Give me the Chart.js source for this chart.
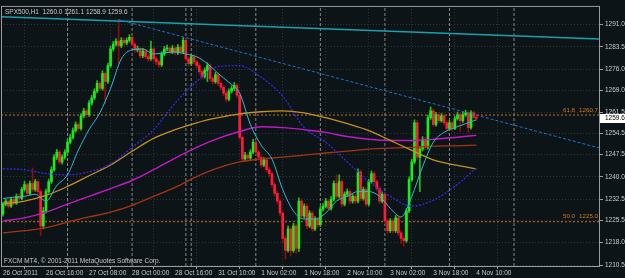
<!DOCTYPE html>
<html>
<head>
<meta charset="utf-8">
<script src="https://cdn.jsdelivr.net/npm/chart.js@4.4.0/dist/chart.umd.min.js"></script>
<style>
  html, body { margin: 0; padding: 0; background: #0c1417; }
  canvas { display: block; }
</style>
</head>
<body>
<canvas id="chart" width="625" height="278"></canvas>
<script>
// SPX500 H1 bars, index 0 = 26 Oct 2011 00:00 (open of first bar below)
const firstOpen = 1227.6;
const closes = [
  1230.9,1231.9,1230.2,1232.5,1231.2,1233.5,1232.8,1235.8,1237.4,1234.5,
  1237.8,1235.8,1238.4,1235.1,1223.6,1228.6,1235.1,1238.4,1242.4,1246.6,
  1248.3,1245.0,1246.6,1248.3,1251.6,1253.2,1255.5,1257.5,1256.2,1260.4,
  1262.1,1260.8,1264.7,1266.4,1268.7,1271.3,1269.6,1274.6,1271.9,1277.2,
  1282.8,1284.4,1285.4,1283.8,1285.7,1284.8,1285.7,1286.7,1284.4,1282.5,
  1282.8,1280.5,1282.1,1280.2,1279.5,1282.8,1279.5,1278.5,1277.5,1281.1,
  1282.8,1283.1,1281.8,1283.1,1281.5,1283.4,1281.8,1285.7,1279.5,1277.9,
  1280.2,1278.5,1277.2,1275.2,1273.6,1275.6,1277.2,1272.9,1271.9,1274.2,
  1271.3,1270.0,1268.0,1266.0,1268.7,1269.6,1270.6,1267.3,1253.2,1246.0,
  1247.3,1246.3,1248.3,1251.6,1248.3,1246.6,1244.0,1245.7,1242.4,1241.1,
  1237.4,1234.5,1231.9,1227.9,1219.4,1215.4,1222.6,1215.4,1223.6,1216.1,
  1231.9,1226.9,1230.2,1223.6,1227.9,1222.6,1225.9,1224.0,1229.2,1230.2,
  1231.9,1229.5,1232.5,1237.8,1233.5,1238.4,1230.9,1234.2,1235.1,1231.9,
  1233.5,1231.9,1241.7,1232.8,1235.8,1230.9,1238.4,1241.1,1238.4,1236.1,
  1231.9,1234.2,1225.3,1222.0,1225.3,1222.0,1226.3,1221.3,1219.4,1218.7,
  1228.6,1239.1,1245.0,1258.1,1246.6,1249.3,1252.6,1249.9,1259.8,1262.1,
  1257.5,1260.8,1258.8,1260.4,1258.1,1256.2,1258.1,1256.2,1259.5,1260.8,
  1258.8,1260.8,1261.4,1256.5,1261.4,1260.0,1259.6
];
const highs = [
  1231.6,1232.6,1232.4,1233.2,1233.0,1234.3,1234.4,1236.5,1238.5,1237.9,
  1238.6,1243.0,1239.2,1239.0,1235.8,1229.8,1235.9,1239.3,1243.4,1247.5,
  1249.2,1248.9,1247.4,1249.1,1252.5,1254.2,1256.4,1258.4,1258.2,1261.2,
  1263.0,1262.8,1265.5,1267.3,1269.5,1272.2,1272.0,1275.5,1275.2,1278.1,
  1283.7,1285.3,1286.3,1292.6,1286.6,1286.4,1286.5,1287.6,1287.3,1285.0,
  1283.8,1283.3,1283.0,1282.7,1281.0,1285.4,1283.3,1280.1,1279.1,1281.9,
  1283.7,1284.1,1283.7,1284.0,1283.6,1284.3,1284.0,1286.6,1286.2,1280.2,
  1281.0,1280.8,1279.1,1277.8,1275.9,1276.5,1278.2,1277.8,1273.6,1275.0,
  1274.8,1271.9,1270.6,1268.6,1269.5,1270.5,1271.6,1271.2,1268.0,1253.8,
  1248.2,1247.9,1249.1,1252.6,1252.1,1249.0,1247.2,1246.5,1246.2,1243.2,
  1241.8,1238.1,1235.2,1232.6,1228.6,1220.1,1223.6,1223.3,1224.5,1224.2,
  1233.0,1232.6,1231.0,1231.0,1228.7,1228.5,1226.7,1226.5,1230.1,1231.1,
  1232.8,1232.5,1233.4,1238.7,1240.7,1240.7,1239.0,1235.0,1236.0,1235.7,
  1234.3,1234.1,1242.7,1242.3,1236.6,1236.4,1239.2,1242.0,1241.8,1239.0,
  1236.8,1235.0,1234.9,1226.0,1226.1,1226.0,1227.1,1226.9,1222.0,1220.3,
  1229.4,1240.0,1245.9,1259.1,1258.9,1250.2,1253.5,1253.3,1260.7,1263.4,
  1262.8,1261.6,1261.4,1261.2,1261.0,1258.7,1258.9,1258.6,1260.3,1261.7,
  1261.5,1261.6,1262.3,1262.0,1262.2,1262.0,1261.1
];
const lows = [
  1226.9,1230.3,1229.5,1229.8,1230.6,1230.8,1232.1,1232.3,1235.2,1233.9,
  1234.0,1235.1,1235.2,1234.4,1220.4,1222.6,1227.9,1234.5,1237.8,1241.8,
  1245.8,1244.2,1244.3,1245.9,1247.7,1251.0,1252.6,1254.9,1255.0,1255.6,
  1259.8,1259.9,1260.2,1264.0,1265.8,1268.1,1268.9,1269.0,1264.7,1271.3,
  1276.6,1282.1,1283.8,1277.9,1283.2,1284.1,1284.2,1285.1,1283.8,1281.7,
  1281.8,1279.7,1279.9,1279.4,1278.6,1279.0,1278.7,1277.5,1276.6,1276.9,
  1280.5,1282.1,1281.0,1281.2,1280.8,1280.9,1281.0,1281.2,1278.8,1277.0,
  1277.3,1277.7,1276.3,1274.4,1272.7,1273.0,1271.9,1272.1,1271.0,1271.3,
  1270.5,1269.1,1267.2,1265.1,1265.4,1268.0,1268.9,1266.5,1252.4,1245.2,
  1245.5,1245.6,1245.8,1247.8,1247.6,1245.8,1243.2,1243.4,1241.6,1240.2,
  1236.6,1233.6,1231.0,1227.0,1218.0,1212.5,1214.8,1213.5,1214.8,1214.4,
  1215.0,1226.0,1226.2,1222.7,1223.0,1221.6,1222.0,1223.2,1223.4,1228.5,
  1229.6,1228.7,1228.9,1231.9,1232.7,1232.9,1230.0,1230.3,1233.5,1231.0,
  1231.2,1231.1,1231.3,1232.0,1232.2,1230.1,1230.3,1237.8,1237.6,1235.3,
  1231.0,1231.3,1224.4,1221.1,1221.4,1221.2,1221.4,1220.4,1217.7,1216.8,
  1218.1,1228.0,1238.5,1244.4,1245.6,1235.1,1248.7,1249.1,1249.3,1259.2,
  1256.8,1257.0,1258.1,1258.3,1257.4,1255.5,1255.7,1255.4,1255.8,1259.0,
  1255.2,1258.2,1260.2,1254.9,1256.0,1259.4,1258.9
];

// time axis
const xTickIdx = [0, 16, 32, 48, 64, 80, 96, 112, 128, 144, 160, 176];
const xTickLabels = ['26 Oct 2011', '26 Oct 16:00', '27 Oct 08:00', '28 Oct 00:00', '28 Oct 16:00',
  '31 Oct 10:00', '1 Nov 02:00', '1 Nov 18:00', '2 Nov 10:00', '3 Nov 02:00', '3 Nov 18:00', '4 Nov 10:00'];
const daySeparators = [24, 48, 68, 70, 94, 118, 142, 166, 190];

// price axis
const yTicks = [1291.0, 1283.5, 1276.0, 1269.0, 1261.5, 1254.5, 1247.5, 1240.0, 1232.5, 1225.5, 1218.0, 1210.5];

// moving averages
const fastMaIdx = [0,4,8,12,16,20,24,28,32,36,40,44,48,52,56,60,64,68,72,76,80,84,88,
  92,96,100,104,108,112,116,120,124,128,132,136,140,144,148,152,156,160,164,168,172,176];
const fastMa = [1232.8,1233.2,1233.5,1234.2,1231.9,1237.1,1240.7,1248.9,1255.8,1261.4,1269.6,1279.5,
  1282.5,1282.8,1281.1,1281.5,1281.8,1281.1,1280.2,1277.9,1274.6,1271.6,1268.0,1257.5,1250.6,1246.0,
  1235.8,1228.6,1225.9,1225.9,1227.9,1231.9,1233.5,1235.1,1235.1,1233.5,1229.5,1226.6,1233.5,1243.4,
  1251.6,1254.9,1256.5,1257.8,1259.1];
const slowMaIdx = [0,8,16,24,32,40,48,56,64,72,80,88,96,104,112,120,128,136,144,152,160,168,176];
const blueMa = [1242.7,1242.4,1241.1,1240.7,1241.7,1244.3,1249.9,1255.8,1264.7,1271.9,1276.9,1277.2,
  1273.3,1267.0,1256.5,1251.6,1245.0,1238.4,1233.5,1230.2,1232.2,1236.8,1243.0];
const orangeMa = [1230.9,1231.9,1233.8,1236.8,1240.4,1244.0,1248.6,1252.9,1255.8,1258.1,1259.8,1261.1,
  1261.8,1262.1,1261.4,1259.8,1257.8,1255.5,1252.2,1248.9,1245.7,1244.0,1242.7];
const magentaMa = [1225.3,1226.3,1228.2,1230.9,1233.5,1236.1,1238.8,1242.4,1246.3,1249.9,1252.9,1255.2,
  1256.8,1256.5,1255.8,1254.9,1253.5,1252.6,1252.2,1252.2,1252.6,1253.2,1253.9];
const redMa = [1221.3,1222.0,1223.0,1224.9,1226.6,1228.2,1230.5,1233.5,1236.5,1240.1,1243.0,1245.0,
  1246.0,1246.6,1247.3,1248.0,1248.6,1249.3,1249.6,1249.9,1250.3,1250.4,1250.6];

// drawn objects
const topLineIdx = [-0.4, 221.6];
const topLinePrice = [1293.6, 1286.1];
const resLineIdx = [43, 221.6];
const resLinePrice = [1292.6, 1249.7];
const fibLevels = ['61.8', '50.0'];
const fibPrices = [1260.7, 1225.0];

const X_MIN = -0.74, X_MAX = 221.6;
const Y_MIN = 1210.2, Y_MAX = 1297.2;

const opens = closes.map((c, i) => i ? closes[i - 1] : firstOpen);
const bull = closes.map((c, i) => c >= opens[i]);
const idx = closes.map((c, i) => i);

const BG = '#0c1417';
const TEXT = '#c8c8c8';
const FONT = '"Liberation Sans", Arial, sans-serif';

Chart.defaults.font.family = FONT;
Chart.defaults.font.size = 6.5;
Chart.defaults.color = TEXT;

function pts(xs, ys) { return xs.map((x, k) => ({ x: x, y: ys[k] })); }

function lineSet(data, color, width, dash, order, smooth) {
  return {
    type: 'line', data: data, borderColor: color, borderWidth: width,
    borderDash: dash || [], pointRadius: 0, fill: false, order: order,
    tension: smooth ? 0.4 : 0, cubicInterpolationMode: smooth ? 'monotone' : 'default'
  };
}

const datasets = [];

// day separators
daySeparators.forEach(s => {
  datasets.push(lineSet([{ x: s, y: Y_MIN }, { x: s, y: Y_MAX }], 'rgba(175,175,165,0.75)', 1, [3, 2], 30));
});
// fibo levels
fibPrices.forEach(p => {
  datasets.push(lineSet([{ x: X_MIN, y: p }, { x: X_MAX, y: p }], '#c8741a', 1, [2, 2], 29));
});

// candles: wicks then bodies
datasets.push({
  type: 'bar', grouped: false, order: 20, barThickness: 1, borderWidth: 0,
  data: idx.map(i => ({ x: i, y: [lows[i], highs[i]] })),
  backgroundColor: idx.map(i => bull[i] ? '#1fbf1f' : '#8e0b0b')
});
datasets.push({
  type: 'bar', grouped: false, order: 19, barThickness: 2, borderWidth: 0, minBarLength: 1,
  data: idx.map(i => ({ x: i, y: [opens[i], closes[i]] })),
  backgroundColor: idx.map(i => bull[i] ? '#19ee19' : '#ff1a3a')
});

// moving averages
datasets.push(lineSet(pts(slowMaIdx, redMa), '#a83214', 1.3, [], 6, true));
datasets.push(lineSet(pts(slowMaIdx, magentaMa), '#c418c4', 1.4, [], 5, true));
datasets.push(lineSet(pts(slowMaIdx, orangeMa), '#c8901c', 1.3, [], 4, true));
datasets.push(lineSet(pts(slowMaIdx, blueMa), '#3d26f0', 1.2, [2, 1.5], 3, true));
datasets.push(lineSet(pts(fastMaIdx, fastMa), '#2bbcd0', 1, [], 2, true));

// trend lines
datasets.push(lineSet(pts(topLineIdx, topLinePrice), '#17a3ad', 1.5, [], 1));
datasets.push(lineSet(pts(resLineIdx, resLinePrice), '#1f6fcf', 1, [3, 2], 0));

const mt4Overlay = {
  id: 'mt4Overlay',
  beforeDraw(chart) {
    const ctx = chart.ctx;
    ctx.save();
    ctx.fillStyle = BG;
    ctx.fillRect(0, 0, chart.width, chart.height);
    ctx.restore();
  },
  afterDraw(chart) {
    const { ctx, chartArea: a, scales: { y } } = chart;
    ctx.save();
    // frame
    ctx.strokeStyle = '#9c9c9c';
    ctx.lineWidth = 1;
    ctx.strokeRect(a.left + 0.5, a.top + 0.5, a.right - a.left, a.bottom - a.top);

    ctx.font = '6.2px ' + FONT;
    ctx.textBaseline = 'middle';

    // fibo labels
    ctx.fillStyle = '#d27a1e';
    fibPrices.forEach((p, k) => {
      const py = y.getPixelForValue(p) - 5;
      ctx.textAlign = 'left';
      ctx.fillText(fibLevels[k], a.right - 36, py);
      ctx.textAlign = 'right';
      ctx.fillText(p.toFixed(1), a.right - 1, py);
    });

    // header + copyright
    ctx.font = '6.5px ' + FONT;
    ctx.textAlign = 'left';
    ctx.fillStyle = TEXT;
    const last = closes.length - 1;
    ctx.fillText('SPX500,H1  ' + opens[last].toFixed(1) + ' ' + highs[last].toFixed(1) + ' ' +
      lows[last].toFixed(1) + ' ' + closes[last].toFixed(1), a.left + 4, a.top + 6);
    ctx.fillText('FXCM MT4, \u00a9 2001-2011 MetaQuotes Software Corp.', a.left + 3, a.bottom - 5);

    // current price box
    const cy = Math.round(y.getPixelForValue(closes[last]));
    ctx.fillStyle = '#ffffff';
    ctx.fillRect(a.right + 1, cy - 4, 25, 9);
    ctx.fillStyle = '#000000';
    ctx.fillText(closes[last].toFixed(1), a.right + 6, cy + 0.5);
    ctx.restore();
  }
};

new Chart(document.getElementById('chart'), {
  type: 'bar',
  data: { datasets: datasets },
  options: {
    responsive: false,
    animation: false,
    devicePixelRatio: 1,
    layout: { padding: { left: 1, top: 1, right: 0, bottom: 0 } },
    plugins: { legend: { display: false }, tooltip: { enabled: false } },
    scales: {
      x: {
        type: 'linear', min: X_MIN, max: X_MAX, offset: false,
        afterFit: s => { s.height = 12; },
        afterBuildTicks: s => { s.ticks = xTickIdx.map(v => ({ value: v })); },
        grid: { color: '#2b383b', drawTicks: true, tickLength: 3, tickColor: '#9c9c9c' },
        border: { display: false, dash: [1, 2] },
        ticks: {
          align: 'start', padding: 0, maxRotation: 0, autoSkip: false, color: TEXT,
          callback: (v, i) => xTickLabels[i]
        }
      },
      y: {
        position: 'right', min: Y_MIN, max: Y_MAX,
        afterFit: s => { s.width = 26; },
        afterBuildTicks: s => { s.ticks = yTicks.map(v => ({ value: v })); },
        grid: { color: '#2b383b', drawTicks: true, tickLength: 4, tickColor: '#9c9c9c' },
        border: { display: false, dash: [1, 2] },
        ticks: { padding: 2, color: TEXT, callback: v => Number(v).toFixed(1) }
      }
    }
  },
  plugins: [mt4Overlay]
});
</script>
</body>
</html>
